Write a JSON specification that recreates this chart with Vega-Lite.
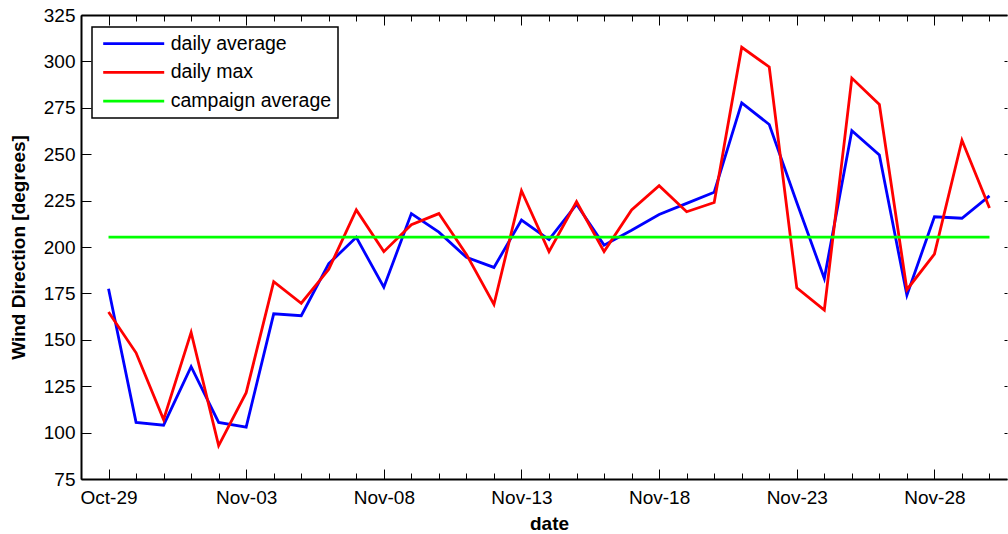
{
  "$schema": "https://vega.github.io/schema/vega-lite/v6.json",
  "width": 926,
  "height": 464,
  "autosize": {"type": "none"},
  "padding": {"left": 81, "top": 15, "right": 1, "bottom": 55},
  "background": "white",
  "config": {
    "view": {"stroke": null},
    "font": "Liberation Sans",
    "axis": {
      "grid": false,
      "domainColor": "#000",
      "domainWidth": 2,
      "tickColor": "#000",
      "tickWidth": 1,
      "labelColor": "#000",
      "labelFont": "Liberation Sans",
      "labelFontSize": 19,
      "titleFont": "Liberation Sans",
      "titleFontSize": 19,
      "titleFontWeight": "bold",
      "titleColor": "#000"
    },
    "legend": {"strokeWidth": 1.5}
  },
  "data": {
    "values": [
      {"date": "2009-10-29", "avg": 177.5, "max": 165, "camp": 205.3},
      {"date": "2009-10-30", "avg": 105.5, "max": 143, "camp": 205.3},
      {"date": "2009-10-31", "avg": 104, "max": 107, "camp": 205.3},
      {"date": "2009-11-01", "avg": 135.5, "max": 154, "camp": 205.3},
      {"date": "2009-11-02", "avg": 105.5, "max": 93, "camp": 205.3},
      {"date": "2009-11-03", "avg": 103, "max": 121.5, "camp": 205.3},
      {"date": "2009-11-04", "avg": 164, "max": 181.3, "camp": 205.3},
      {"date": "2009-11-05", "avg": 163, "max": 169.7, "camp": 205.3},
      {"date": "2009-11-06", "avg": 191, "max": 188, "camp": 205.3},
      {"date": "2009-11-07", "avg": 205.2, "max": 220, "camp": 205.3},
      {"date": "2009-11-08", "avg": 178.3, "max": 197.5, "camp": 205.3},
      {"date": "2009-11-09", "avg": 218, "max": 212, "camp": 205.3},
      {"date": "2009-11-10", "avg": 208, "max": 218, "camp": 205.3},
      {"date": "2009-11-11", "avg": 194.4, "max": 196, "camp": 205.3},
      {"date": "2009-11-12", "avg": 189, "max": 169, "camp": 205.3},
      {"date": "2009-11-13", "avg": 214.5, "max": 230.3, "camp": 205.3},
      {"date": "2009-11-14", "avg": 204, "max": 197.5, "camp": 205.3},
      {"date": "2009-11-15", "avg": 223, "max": 224.4, "camp": 205.3},
      {"date": "2009-11-16", "avg": 201, "max": 197.5, "camp": 205.3},
      {"date": "2009-11-17", "avg": 209, "max": 220, "camp": 205.3},
      {"date": "2009-11-18", "avg": 217.5, "max": 233, "camp": 205.3},
      {"date": "2009-11-19", "avg": 223.5, "max": 219, "camp": 205.3},
      {"date": "2009-11-20", "avg": 229.5, "max": 224, "camp": 205.3},
      {"date": "2009-11-21", "avg": 277.7, "max": 307.6, "camp": 205.3},
      {"date": "2009-11-22", "avg": 266, "max": 297, "camp": 205.3},
      {"date": "2009-11-23", "avg": 224, "max": 178, "camp": 205.3},
      {"date": "2009-11-24", "avg": 183, "max": 166, "camp": 205.3},
      {"date": "2009-11-25", "avg": 262.7, "max": 291, "camp": 205.3},
      {"date": "2009-11-26", "avg": 249.6, "max": 276.8, "camp": 205.3},
      {"date": "2009-11-27", "avg": 174, "max": 177, "camp": 205.3},
      {"date": "2009-11-28", "avg": 216.3, "max": 196.2, "camp": 205.3},
      {"date": "2009-11-29", "avg": 215.5, "max": 257.5, "camp": 205.3},
      {"date": "2009-11-30", "avg": 227.5, "max": 221, "camp": 205.3}
    ]
  },
  "layer": [
    {
      "mark": {"type": "line", "strokeWidth": 2.8},
      "encoding": {
        "x": {
          "field": "date", "type": "temporal",
          "scale": {"type": "utc", "domain": [
            {"year": 2009, "month": 10, "date": 28, "utc": true},
            {"year": 2009, "month": 11, "date": 30, "hours": 15, "minutes": 16, "utc": true}
          ]},
          "axis": {
            "orient": "bottom",
            "values": [
              {"year": 2009, "month": 10, "date": 29, "utc": true},
              {"year": 2009, "month": 11, "date": 3, "utc": true},
              {"year": 2009, "month": 11, "date": 8, "utc": true},
              {"year": 2009, "month": 11, "date": 13, "utc": true},
              {"year": 2009, "month": 11, "date": 18, "utc": true},
              {"year": 2009, "month": 11, "date": 23, "utc": true},
              {"year": 2009, "month": 11, "date": 28, "utc": true}
            ],
            "labelExpr": "utcFormat(datum.value, '%b-%d')",
            "tickSize": -10, "labelPadding": 19,
            "labelFlush": false, "labelOverlap": false,
            "title": "date", "titleX": 468, "titlePadding": 7
          }
        },
        "y": {
          "field": "avg", "type": "quantitative",
          "scale": {"domain": [75, 325], "nice": false, "zero": false},
          "axis": {
            "orient": "left",
            "values": [75, 100, 125, 150, 175, 200, 225, 250, 275, 300, 325],
            "tickSize": -10, "labelPadding": 16,
            "labelFlush": false, "labelOverlap": false,
            "title": "Wind Direction [degrees]", "titlePadding": 15
          }
        },
        "color": {
          "datum": "daily average", "type": "nominal",
          "scale": {"domain": ["daily average", "daily max", "campaign average"], "range": ["#0000ff", "#ff0000", "#00ff00"]},
          "legend": {
            "orient": "none", "legendX": 11, "legendY": 12, "title": null,
            "symbolType": "stroke", "symbolSize": 3721, "symbolStrokeWidth": 2.8,
            "clipHeight": 21, "rowPadding": 7.7, "padding": 6.2,
            "labelFont": "Liberation Sans", "labelFontSize": 19.5, "labelColor": "#000",
            "labelLimit": 400,
            "labelOffset": 5, "symbolOffset": 3.5,
            "strokeColor": "#000", "fillColor": "#fff"
          }
        }
      }
    },
    {
      "mark": {"type": "line", "strokeWidth": 2.8},
      "encoding": {
        "x": {
          "field": "date", "type": "temporal",
          "axis": {
            "orient": "bottom", "tickCount": {"interval": "day", "step": 1},
            "labels": false, "domain": false, "tickSize": -6, "title": null
          }
        },
        "y": {
          "field": "max", "type": "quantitative",
          "axis": {
            "orient": "right",
            "values": [75, 100, 125, 150, 175, 200, 225, 250, 275, 300, 325],
            "labels": false, "domain": false, "tickSize": -3, "title": null
          }
        },
        "color": {"datum": "daily max", "type": "nominal"}
      }
    },
    {
      "mark": {"type": "line", "strokeWidth": 2.8},
      "encoding": {
        "x": {
          "field": "date", "type": "temporal",
          "axis": {
            "orient": "top",
            "values": [
              {"year": 2009, "month": 10, "date": 29, "utc": true},
              {"year": 2009, "month": 11, "date": 3, "utc": true},
              {"year": 2009, "month": 11, "date": 8, "utc": true},
              {"year": 2009, "month": 11, "date": 13, "utc": true},
              {"year": 2009, "month": 11, "date": 18, "utc": true},
              {"year": 2009, "month": 11, "date": 23, "utc": true},
              {"year": 2009, "month": 11, "date": 28, "utc": true}
            ],
            "labels": false, "tickSize": -10, "title": null
          }
        },
        "y": {"field": "camp", "type": "quantitative", "axis": null},
        "color": {"datum": "campaign average", "type": "nominal"}
      }
    },
    {
      "mark": {"type": "line", "opacity": 0},
      "encoding": {
        "x": {
          "field": "date", "type": "temporal",
          "axis": {
            "orient": "top", "tickCount": {"interval": "day", "step": 1},
            "labels": false, "domain": false, "tickSize": -6, "title": null
          }
        },
        "y": {"field": "avg", "type": "quantitative", "axis": null}
      }
    }
  ],
  "resolve": {"axis": {"x": "independent", "y": "independent"}}
}
